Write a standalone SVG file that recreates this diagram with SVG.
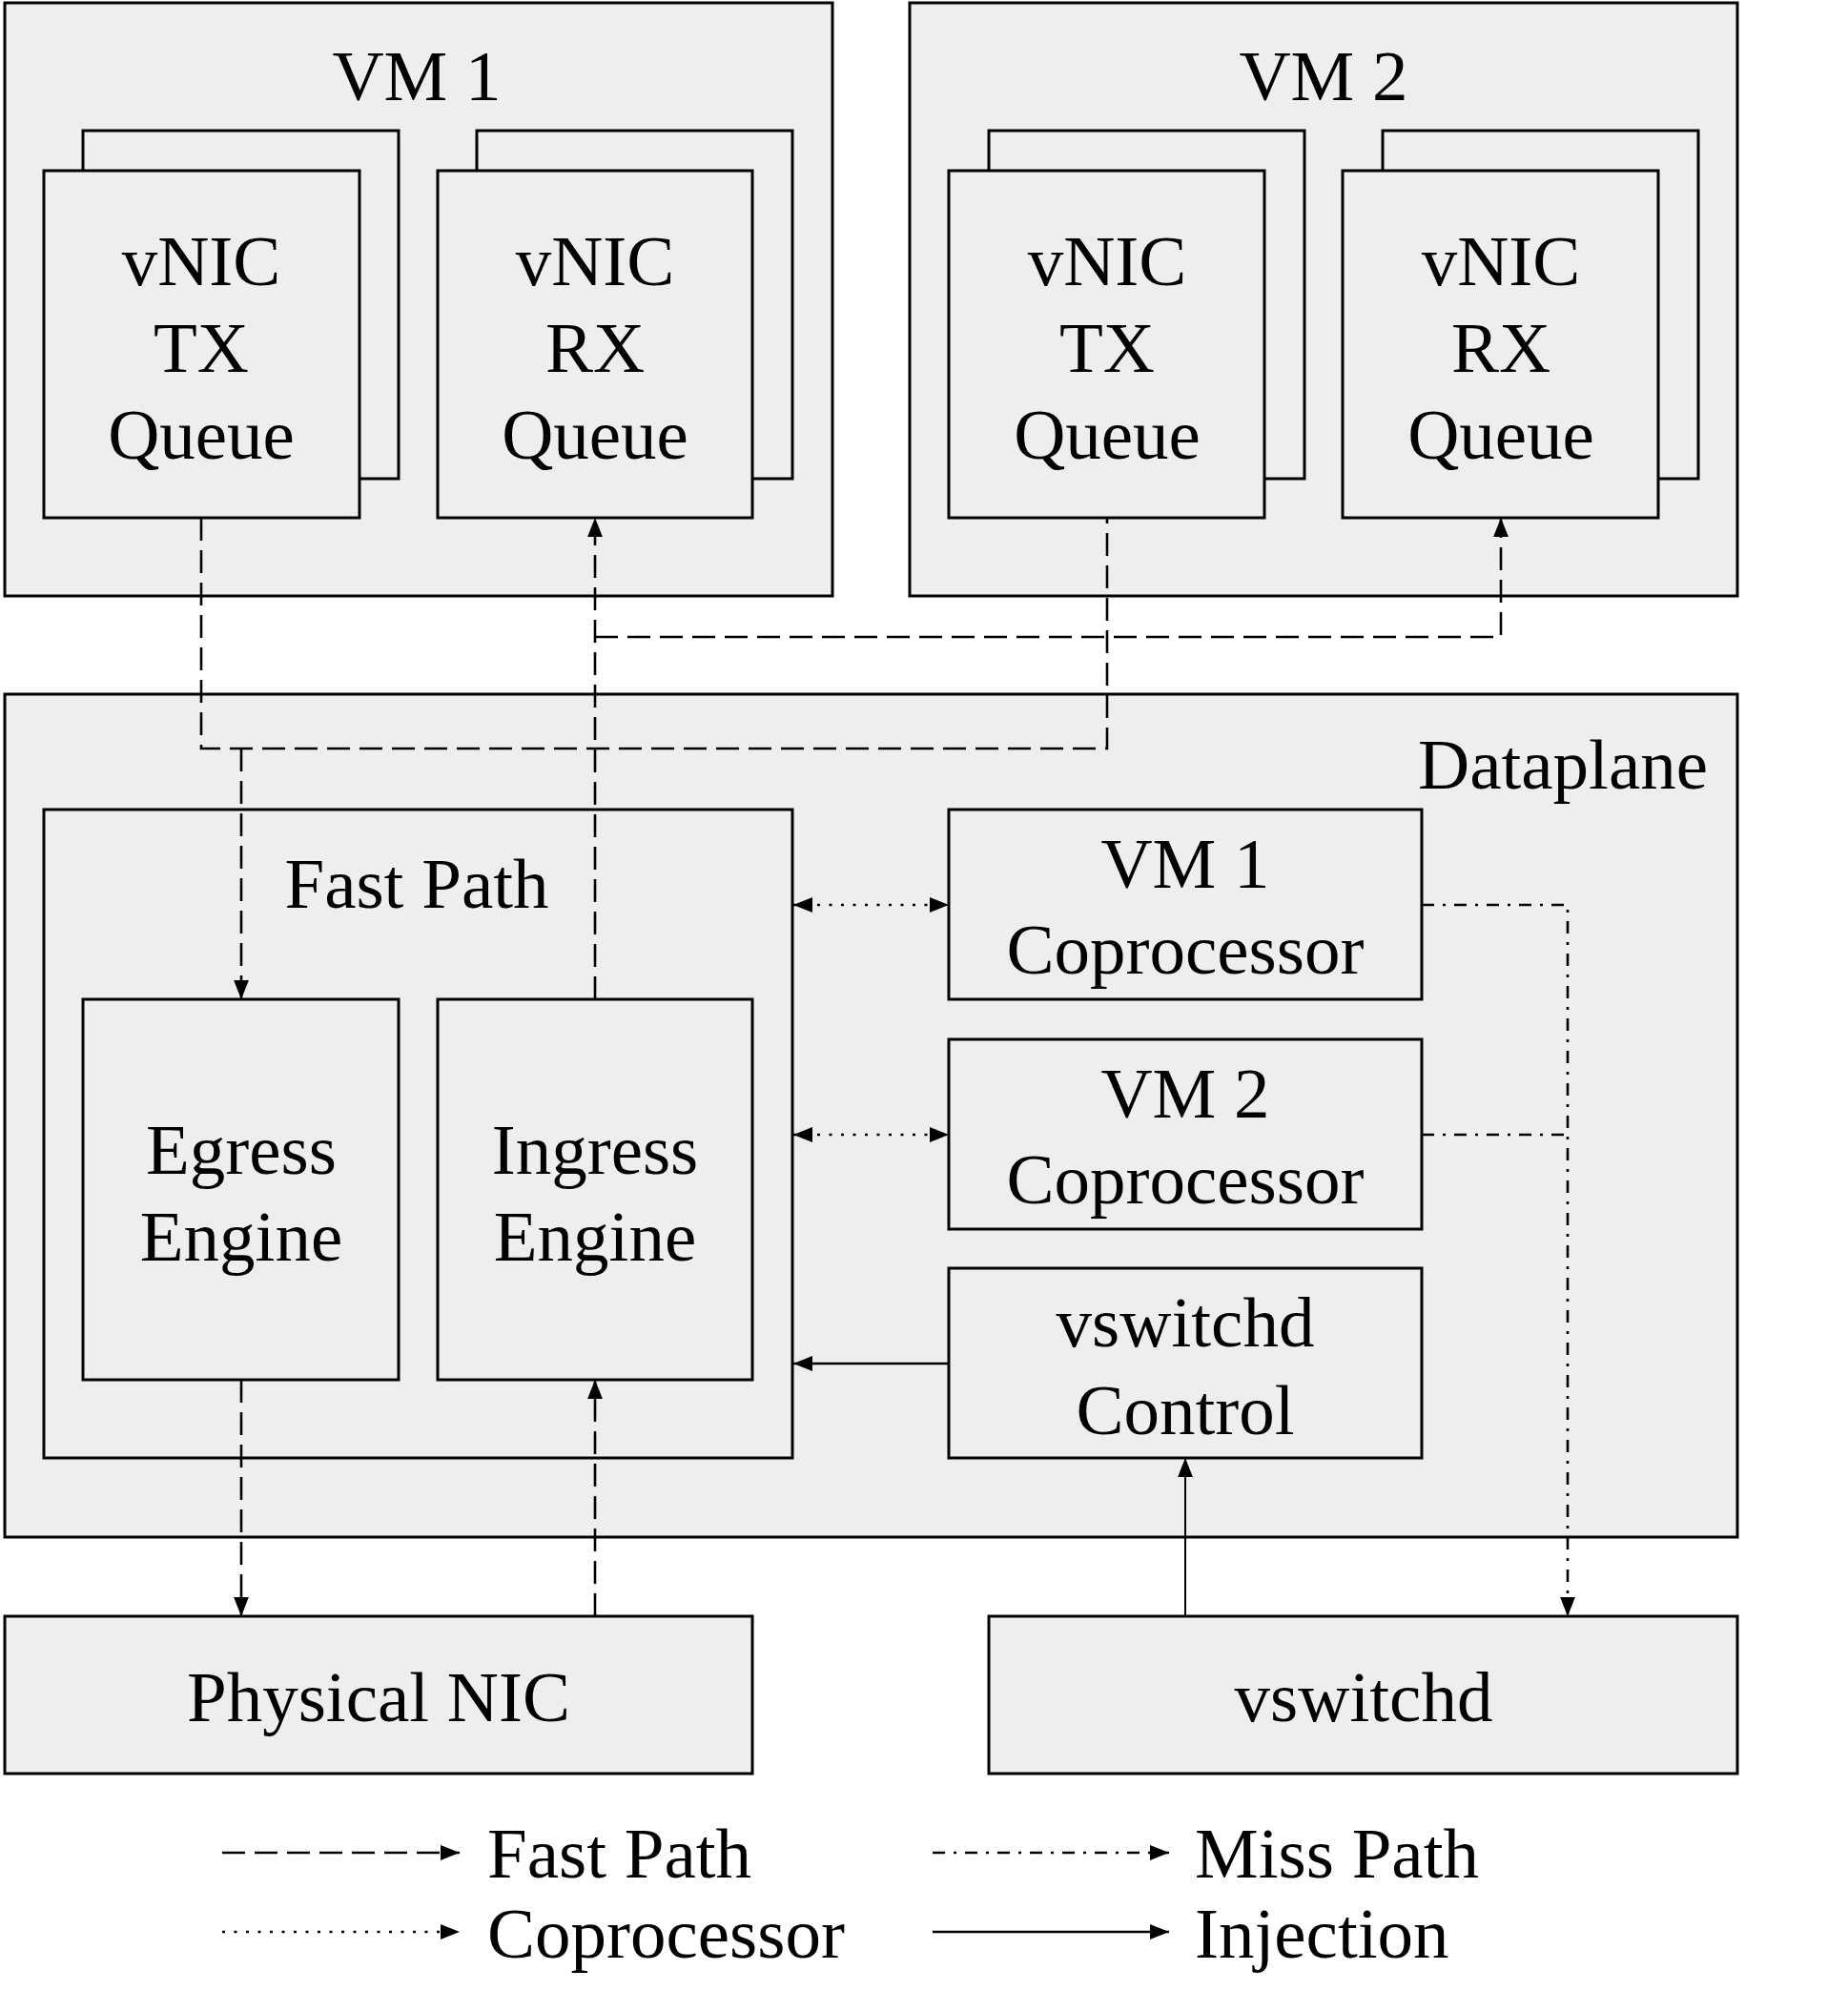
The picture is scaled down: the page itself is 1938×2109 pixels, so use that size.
<svg xmlns="http://www.w3.org/2000/svg" width="1938" height="2109" viewBox="0 0 1938 2109">
<style>
.box{fill:#eeeeee;stroke:#000;stroke-width:3}
.t{font-family:"Liberation Serif","Times New Roman",serif;font-size:75px;fill:#000;text-anchor:middle}
.c{fill:none;stroke:#000;stroke-width:2.6}
.dash{stroke-dasharray:24 10}
.dot{stroke-dasharray:3 9.5}
.dd{stroke-dasharray:13 9 3 9}
.thin{stroke-width:2}
</style>
<defs>
<marker id="ah" markerUnits="userSpaceOnUse" markerWidth="20" markerHeight="16" viewBox="0 0 19 15" refX="19" refY="7.5" orient="auto-start-reverse">
<path d="M0,0 L19,7.5 L0,15 z" fill="#000"/>
</marker>
</defs>
<rect width="1938" height="2109" fill="#fff"/>

<g id="vm1">
<rect class="box" x="5" y="3" width="868" height="622"/>
<text class="t" x="437" y="105">VM 1</text>
</g>
<g id="vm1-tx">
<rect class="box" x="87" y="137" width="331" height="365"/>
<rect class="box" x="46" y="179" width="331" height="364"/>
<text class="t" x="211" y="299">vNIC</text>
<text class="t" x="211" y="390">TX</text>
<text class="t" x="211" y="481">Queue</text>
</g>
<g id="vm1-rx">
<rect class="box" x="500" y="137" width="331" height="365"/>
<rect class="box" x="459" y="179" width="330" height="364"/>
<text class="t" x="624" y="299">vNIC</text>
<text class="t" x="624" y="390">RX</text>
<text class="t" x="624" y="481">Queue</text>
</g>

<g id="vm2">
<rect class="box" x="954" y="3" width="868" height="622"/>
<text class="t" x="1388" y="105">VM 2</text>
</g>
<g id="vm2-tx">
<rect class="box" x="1037" y="137" width="331" height="365"/>
<rect class="box" x="995" y="179" width="331" height="364"/>
<text class="t" x="1161" y="299">vNIC</text>
<text class="t" x="1161" y="390">TX</text>
<text class="t" x="1161" y="481">Queue</text>
</g>
<g id="vm2-rx">
<rect class="box" x="1450" y="137" width="331" height="365"/>
<rect class="box" x="1408" y="179" width="331" height="364"/>
<text class="t" x="1574" y="299">vNIC</text>
<text class="t" x="1574" y="390">RX</text>
<text class="t" x="1574" y="481">Queue</text>
</g>

<g id="dataplane">
<rect class="box" x="5" y="728" width="1817" height="884"/>
<text class="t" x="1791" y="827" style="text-anchor:end">Dataplane</text>
</g>
<g id="fastpath">
<rect class="box" x="46" y="849" width="785" height="680"/>
<text class="t" x="437" y="952">Fast Path</text>
</g>
<g id="egress">
<rect class="box" x="87" y="1048" width="331" height="399"/>
<text class="t" x="253" y="1231">Egress</text>
<text class="t" x="253" y="1322">Engine</text>
</g>
<g id="ingress">
<rect class="box" x="459" y="1048" width="330" height="399"/>
<text class="t" x="624" y="1231">Ingress</text>
<text class="t" x="624" y="1322">Engine</text>
</g>
<g id="vm1-coproc">
<rect class="box" x="995" y="849" width="496" height="199"/>
<text class="t" x="1243" y="931">VM 1</text>
<text class="t" x="1243" y="1021">Coprocessor</text>
</g>
<g id="vm2-coproc">
<rect class="box" x="995" y="1090" width="496" height="199"/>
<text class="t" x="1243" y="1172">VM 2</text>
<text class="t" x="1243" y="1262">Coprocessor</text>
</g>
<g id="vswitchd-control">
<rect class="box" x="995" y="1330" width="496" height="199"/>
<text class="t" x="1243" y="1412">vswitchd</text>
<text class="t" x="1243" y="1504">Control</text>
</g>
<g id="physical-nic">
<rect class="box" x="5" y="1695" width="784" height="165"/>
<text class="t" x="397" y="1805">Physical NIC</text>
</g>
<g id="vswitchd">
<rect class="box" x="1037" y="1695" width="785" height="165"/>
<text class="t" x="1430" y="1805">vswitchd</text>
</g>

<g id="connectors">
<path class="c dash" d="M211,543 V785 H1161 V543"/>
<path class="c dash" d="M253,785 V1048" marker-end="url(#ah)"/>
<path class="c dash" d="M624,1048 V543" marker-end="url(#ah)"/>
<path class="c dash" d="M624,668 H1574 V543" marker-end="url(#ah)"/>
<path class="c dash" d="M253,1447 V1695" marker-end="url(#ah)"/>
<path class="c dash" d="M624,1695 V1447" marker-end="url(#ah)"/>
<path class="c dot" d="M832,949 H995" marker-start="url(#ah)" marker-end="url(#ah)"/>
<path class="c dot" d="M832,1190 H995" marker-start="url(#ah)" marker-end="url(#ah)"/>
<path class="c" d="M995,1430 H832" marker-end="url(#ah)"/>
<path class="c thin" d="M1243,1695 V1529" marker-end="url(#ah)"/>
<path class="c dd" d="M1491,949 H1644 V1695" marker-end="url(#ah)"/>
<path class="c dd" d="M1491,1190 H1644"/>
</g>

<g id="legend">
<path class="c dash" d="M233,1943 H482" marker-end="url(#ah)"/>
<text class="t" x="511" y="1969" style="text-anchor:start">Fast Path</text>
<path class="c dot" d="M233,2026 H482" marker-end="url(#ah)"/>
<text class="t" x="511" y="2053" style="text-anchor:start">Coprocessor</text>
<path class="c dd" d="M978,1943 H1226" marker-end="url(#ah)"/>
<text class="t" x="1253" y="1969" style="text-anchor:start">Miss Path</text>
<path class="c" d="M978,2026 H1226" marker-end="url(#ah)"/>
<text class="t" x="1253" y="2053" style="text-anchor:start">Injection</text>
</g>
</svg>
